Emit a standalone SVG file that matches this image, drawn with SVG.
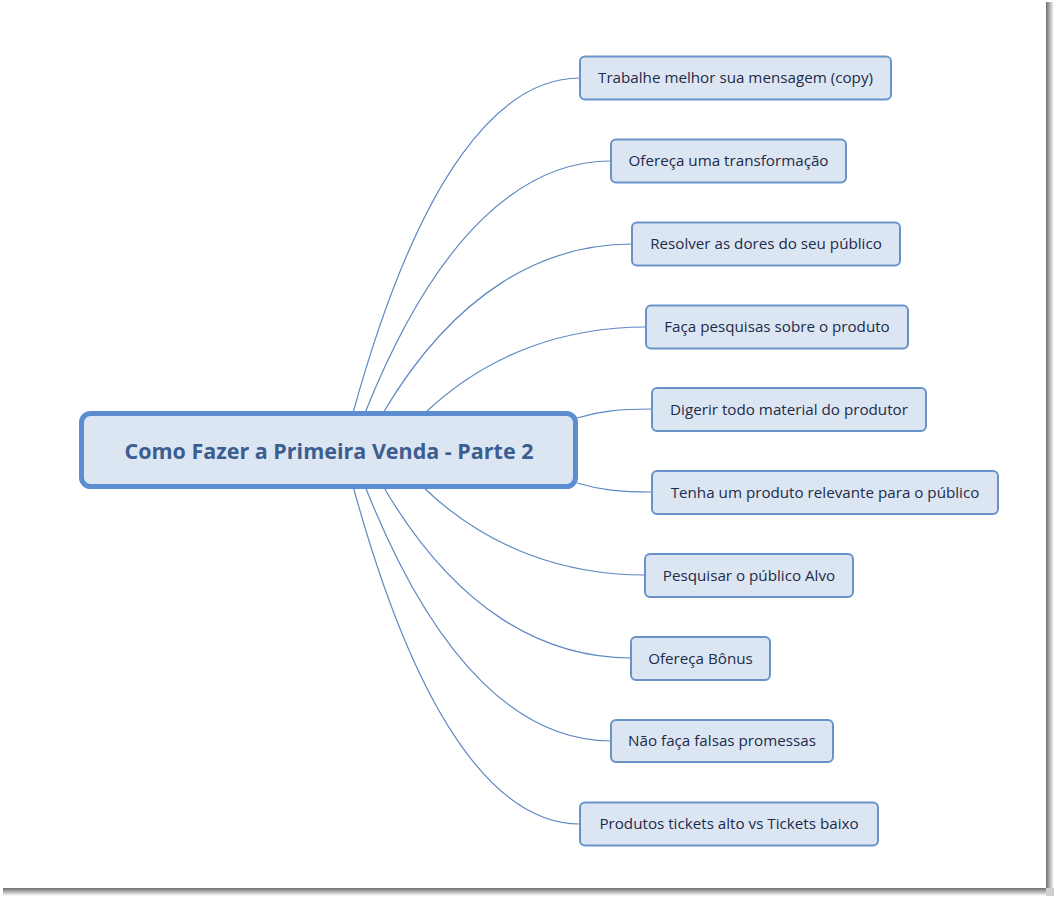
<svg xmlns="http://www.w3.org/2000/svg" width="1056" height="898" viewBox="0 0 1056 898">
<defs>
<linearGradient id="shR" x1="0" y1="0" x2="1" y2="0">
<stop offset="0" stop-color="#6e6e6e"/><stop offset="1" stop-color="#ffffff"/>
</linearGradient>
<linearGradient id="shB" x1="0" y1="0" x2="0" y2="1">
<stop offset="0" stop-color="#6e6e6e"/><stop offset="1" stop-color="#ffffff"/>
</linearGradient>
<style>
.child rect{fill:#dce6f2;stroke:#6893c9;stroke-width:2}
.child text{font-family:"Open Sans","Liberation Sans",sans-serif;font-size:15.2px;fill:#1d2b4b;text-anchor:middle}
.conn path{fill:none;stroke:#5f88c2;stroke-width:1.2}
</style>
</defs>
<rect x="0" y="0" width="1056" height="898" fill="#ffffff"/>
<rect x="1046" y="2" width="8" height="886" fill="url(#shR)"/>
<rect x="3" y="888" width="1043" height="8" fill="url(#shB)"/>
<rect x="1046" y="888" width="8" height="8" fill="#cfcfcf"/>
<g id="connectors" class="conn">
<path d="M353,413 C420,170 501,78 580,78"/>
<path d="M365,413 C438,230 525,161 611,161"/>
<path d="M383,413 C456,290 545,244 632,244"/>
<path d="M425,413 C490,351 569,327 646,327"/>
<path d="M577,418 C600,411 620,409 652,409"/>
<path d="M577,483 C600,490 620,492 652,492"/>
<path d="M422,486 C488,550 567,575 645,575"/>
<path d="M383,486 C456,611 544,658 631,658"/>
<path d="M365,486 C438,671 525,741 611,741"/>
<path d="M353,486 C420,731 501,824 580,824"/>
</g>
<g id="central">
<rect x="81.5" y="413.5" width="494" height="73" rx="9" fill="#dce6f2" stroke="#5b8dd0" stroke-width="5"/>
<text x="329" y="458.5" font-family="'Open Sans','Liberation Sans',sans-serif" font-size="21.5" font-weight="bold" fill="#3b5d8f" text-anchor="middle">Como Fazer a Primeira Venda - Parte 2</text>
</g>
<g id="n1" class="child"><rect x="580" y="56.5" width="311" height="43" rx="5"/><text x="735.5" y="83">Trabalhe melhor sua mensagem (copy)</text></g>
<g id="n2" class="child"><rect x="611" y="139.5" width="235" height="43" rx="5"/><text x="728.5" y="166">Ofereça uma transformação</text></g>
<g id="n3" class="child"><rect x="632" y="222.5" width="268" height="43" rx="5"/><text x="766" y="249">Resolver as dores do seu público</text></g>
<g id="n4" class="child"><rect x="646" y="305.5" width="262" height="43" rx="5"/><text x="777" y="332">Faça pesquisas sobre o produto</text></g>
<g id="n5" class="child"><rect x="652" y="388" width="274" height="43" rx="5"/><text x="789" y="414.5">Digerir todo material do produtor</text></g>
<g id="n6" class="child"><rect x="652" y="471" width="346" height="43" rx="5"/><text x="825" y="497.5">Tenha um produto relevante para o público</text></g>
<g id="n7" class="child"><rect x="645" y="554" width="208" height="43" rx="5"/><text x="749" y="580.5">Pesquisar o público Alvo</text></g>
<g id="n8" class="child"><rect x="631" y="637" width="139" height="43" rx="5"/><text x="700.5" y="663.5">Ofereça Bônus</text></g>
<g id="n9" class="child"><rect x="611" y="720" width="222" height="42" rx="5"/><text x="722" y="746">Não faça falsas promessas</text></g>
<g id="n10" class="child"><rect x="580" y="802.5" width="298" height="43" rx="5"/><text x="729" y="829">Produtos tickets alto vs Tickets baixo</text></g>
</svg>
